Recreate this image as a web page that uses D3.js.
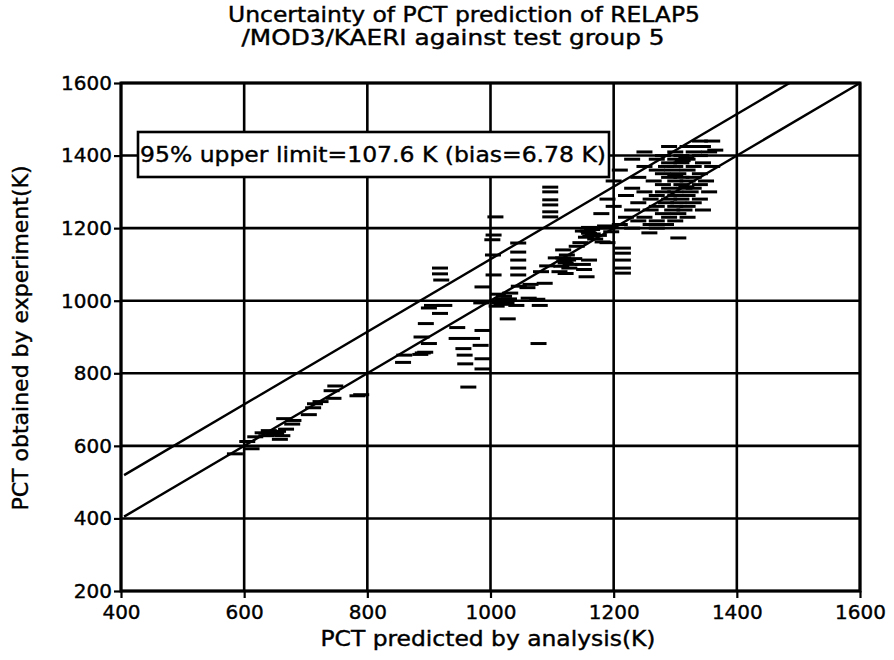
<!DOCTYPE html>
<html><head><meta charset="utf-8">
<script src="https://cdn.jsdelivr.net/npm/d3@7/dist/d3.min.js"></script>
<style>body{margin:0;background:#fff}svg{display:block}</style>
</head><body>
<svg id="chart" width="894" height="660"></svg>
<script>
const xTicks = [400, 600, 800, 1000, 1200, 1400, 1600];
const yTicks = [200, 400, 600, 800, 1000, 1200, 1400, 1600];
const titleLines = ["Uncertainty of PCT prediction of RELAP5", "/MOD3/KAERI against test group 5"];
const xTitle = "PCT predicted by analysis(K)";
const yTitle = "PCT obtained by experiment(K)";
const boxLabel = "95% upper limit=107.6 K (bias=6.78 K)";
const upperLimitK = 107.6;
const biasK = 6.78;

// [PCT predicted by analysis (K), PCT obtained by experiment (K)]
const points = [
  [585,578],[612,592],[605,612],[618,625],[630,636],[640,642],[648,630],[655,640],[662,628],[658,618],
  [645,636],[636,628],[652,634],
  [668,646],[678,660],[665,675],[680,670],[705,686],[712,705],[715,716],[724,722],[745,731],[742,752],
  [748,765],[784,738],[790,741],
  [858,830],[860,850],[890,856],[886,852],[900,882],[888,900],[894,858],
  [905,987],[925,987],[918,965],[895,937],[946,926],[987,918],[945,896],[970,896],[956,868],[984,877],
  [958,850],[987,840],[959,826],[987,812],[964,762],
  [918,1090],[918,1074],[920,1057],[987,1038],[900,980],[985,994],
  [1010,985],[1016,1000],[1022,1012],[1026,994],[1030,1005],[1018,990],[1012,1018],[1032,1021],[1042,987],
  [1020,1004],[1024,1000],[1014,994],
  [1062,1007],[1076,1004],[1080,987],[1028,950],[1078,882],[1046,1040],[1065,1045],[1088,1048],[1060,1036],
  [1008,1231],[1005,1181],[1003,1168],[1004,1126],[1005,1071],
  [1045,1159],[1045,1134],[1045,1112],[1045,1090],[1045,1071],
  [1097,1313],[1097,1300],[1097,1278],[1097,1264],[1097,1245],[1097,1231],
  [1112,1080],[1115,1095],[1120,1110],[1124,1126],[1130,1100],[1118,1140],[1106,1118],[1092,1096],[1082,1080],
  [1122,1104],[1118,1118],[1126,1112],
  [1136,1116],[1150,1100],[1152,1086],[1160,1112],[1156,1066],[1146,1160],[1155,1175],[1160,1186],[1165,1196],
  [1170,1170],[1176,1180],[1160,1202],[1150,1192],[1182,1162],[1140,1150],[1186,1206],[1196,1190],[1190,1160],
  [1162,1178],[1166,1184],[1158,1192],
  [1128,1090],[1122,1075],
  [1215,1145],[1215,1131],[1215,1112],[1215,1090],[1215,1076],[1258,1187],[1305,1173],
  [1340,1440],[1360,1440],[1365,1415],
  [1290,1425],[1320,1425],[1345,1425],
  [1250,1410],[1300,1410],[1330,1410],[1355,1410],
  [1280,1400],[1310,1400],[1340,1400],[1318,1394],[1312,1386],
  [1230,1390],[1270,1390],[1300,1390],[1320,1390],
  [1290,1380],[1310,1380],[1345,1380],
  [1250,1370],[1285,1370],[1300,1370],[1330,1370],[1360,1370],
  [1210,1360],[1270,1360],[1295,1360],[1320,1360],
  [1280,1350],[1305,1350],[1340,1350],[1300,1344],
  [1240,1340],[1290,1340],[1310,1340],[1330,1340],
  [1200,1330],[1265,1330],[1300,1330],[1320,1330],[1350,1330],
  [1280,1320],[1310,1320],[1340,1320],[1318,1314],
  [1230,1310],[1290,1310],[1315,1310],[1330,1310],
  [1250,1300],[1280,1300],[1300,1300],[1325,1300],[1355,1300],
  [1220,1290],[1270,1290],[1300,1290],[1320,1290],
  [1190,1280],[1260,1280],[1290,1280],[1310,1280],[1340,1280],
  [1240,1270],[1285,1270],[1305,1270],[1330,1270],
  [1200,1260],[1270,1260],[1300,1260],[1320,1260],
  [1230,1250],[1260,1250],[1295,1250],[1315,1250],[1345,1250],
  [1180,1240],[1280,1240],[1305,1240],
  [1220,1230],[1250,1230],[1290,1230],[1320,1230],
  [1240,1220],[1270,1220],[1300,1220],
  [1210,1210],[1260,1210],[1285,1210],
  [1190,1200],[1230,1200],[1270,1200]
];

const svg = d3.select("#chart");
const font = "'DejaVu Sans', Arial, sans-serif";
const x = d3.scaleLinear().domain([400, 1600]).range([121, 860]);
const y = d3.scaleLinear().domain([200, 1600]).range([591, 83]);

// gridlines
const grid = svg.append("g").attr("stroke", "#000").attr("stroke-width", 2.6);
grid.selectAll(".vg").data(xTicks).join("line")
  .attr("x1", d => x(d)).attr("x2", d => x(d)).attr("y1", y(1600)).attr("y2", y(200));
grid.selectAll(".hg").data(yTicks).join("line")
  .attr("y1", d => y(d)).attr("y2", d => y(d)).attr("x1", x(400)).attr("x2", x(1600));

// axes
const yAxis = svg.append("g").attr("transform", `translate(${x(400)},0)`)
  .call(d3.axisLeft(y).tickValues(yTicks).tickSize(7).tickPadding(2).tickFormat(d3.format("d")));
const xAxis = svg.append("g").attr("transform", `translate(0,${y(200)})`)
  .call(d3.axisBottom(x).tickValues(xTicks).tickSize(7).tickPadding(7).tickFormat(d3.format("d")));
[yAxis, xAxis].forEach(g => {
  g.select(".domain").remove();
  g.selectAll(".tick line").attr("stroke", "#000").attr("stroke-width", 2.2);
  g.selectAll(".tick text").attr("fill", "#000").attr("font-family", font).attr("font-size", 20)
    .attr("stroke", "#000").attr("stroke-width", 0.4);
});

// frame
svg.append("rect").attr("x", x(400)).attr("y", y(1600))
  .attr("width", x(1600) - x(400)).attr("height", y(200) - y(1600))
  .attr("fill", "none").attr("stroke", "#000").attr("stroke-width", 3);

// reference lines
const line = d3.line().x(d => x(d[0])).y(d => y(d[1]));
const offset = upperLimitK + biasK;
svg.append("path").datum([[405, 405], [1600, 1600]]).attr("d", line)
  .attr("fill", "none").attr("stroke", "#000").attr("stroke-width", 2.4);
svg.append("path").datum([[405, 405 + offset], [1600 - offset, 1600]]).attr("d", line)
  .attr("fill", "none").attr("stroke", "#000").attr("stroke-width", 2.4);

// data markers (short horizontal dashes)
svg.append("g").selectAll("line").data(points).join("line")
  .attr("x1", d => x(d[0]) - 8).attr("x2", d => x(d[0]) + 8)
  .attr("y1", d => y(d[1])).attr("y2", d => y(d[1]))
  .attr("stroke", "#000").attr("stroke-width", 3);

// annotation box
const bx = 138, by = 132, bw = 471, bh = 45;
svg.append("rect").attr("x", bx).attr("y", by).attr("width", bw).attr("height", bh)
  .attr("fill", "#fff").attr("stroke", "#000").attr("stroke-width", 2.6);
svg.append("text").attr("x", bx + 2).attr("y", by + 30).text(boxLabel)
  .attr("font-family", font).attr("font-size", 22).attr("fill", "#000")
  .attr("stroke", "#000").attr("stroke-width", 0.4)
  .attr("textLength", 466).attr("lengthAdjust", "spacingAndGlyphs");

// title
const tStyle = s => s.attr("font-family", font).attr("font-size", 21).attr("fill", "#000")
  .attr("stroke", "#000").attr("stroke-width", 0.4).attr("lengthAdjust", "spacingAndGlyphs");
svg.append("text").attr("x", 464).attr("y", 22).attr("text-anchor", "middle").text(titleLines[0])
  .call(tStyle).attr("textLength", 472);
svg.append("text").attr("x", 453).attr("y", 45).attr("text-anchor", "middle").text(titleLines[1])
  .call(tStyle).attr("textLength", 423);

// axis titles
svg.append("text").attr("x", 488).attr("y", 646).attr("text-anchor", "middle").text(xTitle)
  .call(tStyle).attr("textLength", 335);
svg.append("text").attr("transform", "translate(28,338) rotate(-90)").attr("text-anchor", "middle").text(yTitle)
  .call(tStyle).attr("textLength", 345);
</script>
</body></html>
